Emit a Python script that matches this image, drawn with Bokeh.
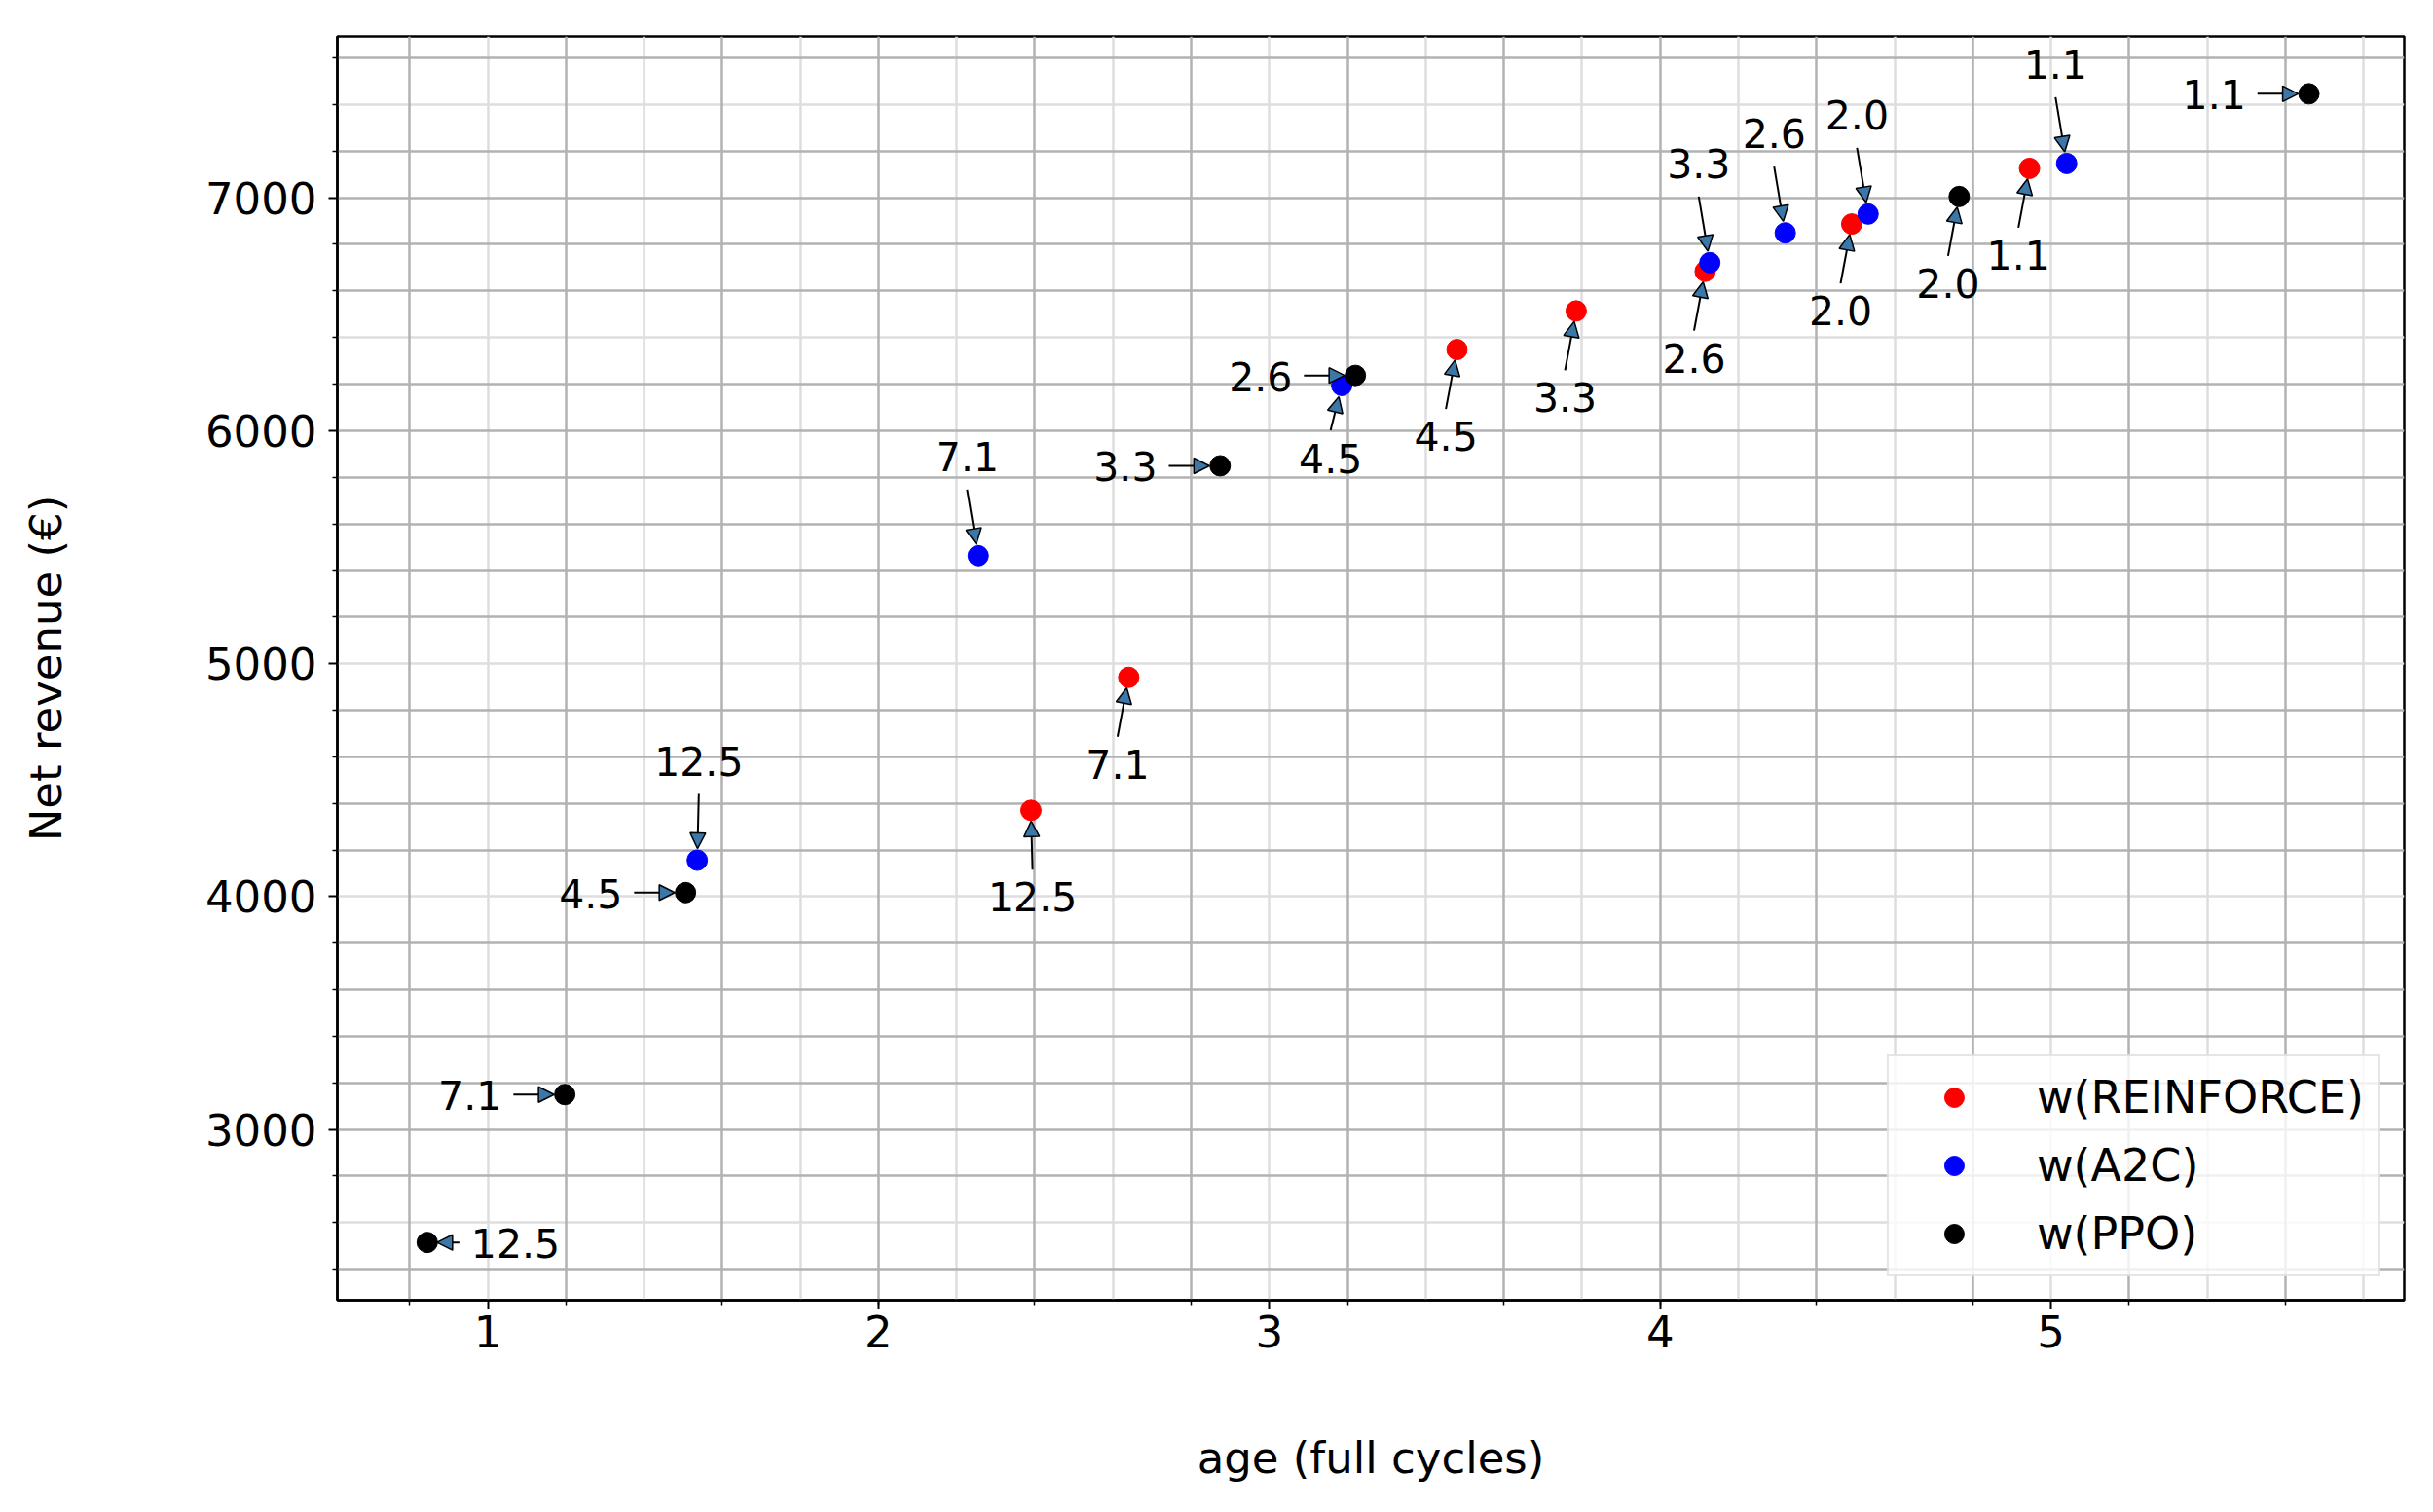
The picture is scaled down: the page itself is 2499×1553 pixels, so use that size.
import math
from bokeh.plotting import figure
from bokeh.models import FixedTicker, Grid, Arrow, NormalHead, ColumnDataSource, Range1d
from bokeh.core.properties import value
from bokeh.embed import file_html
from bokeh.resources import INLINE

# ---------------- data ----------------
weights = ["12.5", "7.1", "4.5", "3.3", "2.6", "2.0", "1.1"]

reinforce_age = [2.39, 2.64, 3.48, 3.785, 4.115, 4.49, 4.945]
reinforce_rev = [4370, 4941, 6348, 6514, 6684, 6887, 7126]

a2c_age = [1.536, 2.255, 3.185, 4.127, 4.32, 4.532, 5.04]
a2c_rev = [4156, 5463, 6194, 6721, 6849, 6930, 7147]

ppo_age = [0.845, 1.197, 1.506, 2.874, 3.22, 4.765, 5.66]
ppo_rev = [2515, 3150, 4017, 5849, 6237, 7005, 7446]

series_names = ["w(REINFORCE)", "w(A2C)", "w(PPO)"]
series_colors = ["red", "blue", "black"]

reinforce_side = ["below"] * 7
a2c_side = ["above", "above", "below_near", "above", "above", "above", "above"]
ppo_side = ["right", "left", "left", "left", "left", "below", "left"]

x_major = [1, 2, 3, 4, 5]
x_minor = [0.8, 1.2, 1.6, 2.0, 2.4, 2.8, 3.2, 3.6, 4.0, 4.4, 4.8, 5.2, 5.6]
y_major = [3000, 4000, 5000, 6000, 7000]
y_minor = [2400, 2600, 2800, 3200, 3400, 3600, 3800, 4200, 4400, 4600, 4800,
           5200, 5400, 5600, 5800, 6200, 6400, 6600, 6800, 7200, 7400, 7600]

xgrid_dark = [0.8, 1.2, 1.6, 2.0, 2.4, 2.8, 3.2, 3.6, 4.0, 4.4, 4.8, 5.2, 5.6]
xgrid_light = [1.0, 1.4, 1.8, 2.2, 2.6, 3.0, 3.4, 3.8, 4.2, 4.6, 5.0, 5.4, 5.8]
ygrid_dark = [2400, 2800, 3000, 3200, 3400, 3600, 3800, 4200, 4400, 4600, 4800,
              5200, 5400, 5600, 5800, 6000, 6200, 6600, 6800, 7000, 7200, 7600]
ygrid_light = [2600, 4000, 5000, 6400, 7400]

# ---------------- layout ----------------
X_RANGE = (0.615, 5.904)
Y_RANGE = (2267, 7692)
FW, FH = 2123, 1298
px_x = FW / (X_RANGE[1] - X_RANGE[0])
px_y = FH / (Y_RANGE[1] - Y_RANGE[0])

FONT = "DejaVu Sans"
ANN_FS = 41

p = figure(frame_width=FW, frame_height=FH,
           x_range=Range1d(*X_RANGE), y_range=Range1d(*Y_RANGE),
           output_backend="svg", toolbar_location=None,
           min_border_left=346, min_border_top=37, min_border_right=22,
           min_border_bottom=196,
           background_fill_color="white", border_fill_color="white",
           x_axis_label="age (full cycles)", y_axis_label="Net revenue (€)")

p.outline_line_color = "black"
p.outline_line_width = 2.5
p.outline_line_alpha = 1.0

p.xgrid.visible = False
p.ygrid.visible = False
p.add_layout(Grid(dimension=0, ticker=FixedTicker(ticks=xgrid_light),
                  grid_line_color="#dedede", grid_line_width=2.5))
p.add_layout(Grid(dimension=1, ticker=FixedTicker(ticks=ygrid_light),
                  grid_line_color="#dedede", grid_line_width=2.5))
p.add_layout(Grid(dimension=0, ticker=FixedTicker(ticks=xgrid_dark),
                  grid_line_color="#b2b2b2", grid_line_width=2.5))
p.add_layout(Grid(dimension=1, ticker=FixedTicker(ticks=ygrid_dark),
                  grid_line_color="#b2b2b2", grid_line_width=2.5))

p.xaxis.ticker = FixedTicker(ticks=x_major, minor_ticks=x_minor)
p.yaxis.ticker = FixedTicker(ticks=y_major, minor_ticks=y_minor)

for ax in (p.xaxis[0], p.yaxis[0]):
    ax.axis_line_width = 2.5
    ax.axis_line_color = "black"
    ax.major_tick_line_width = 2
    ax.major_tick_out = 9
    ax.major_tick_in = 0
    ax.minor_tick_line_width = 1.5
    ax.minor_tick_out = 5
    ax.minor_tick_in = 0
    ax.major_label_text_font = FONT
    ax.major_label_text_font_size = "45px"
    ax.major_label_text_color = "black"
    ax.axis_label_text_font = FONT
    ax.axis_label_text_font_size = "45px"
    ax.axis_label_text_font_style = "normal"
    ax.axis_label_text_color = "black"

p.xaxis.major_label_standoff = 6
p.yaxis.major_label_standoff = 12
p.xaxis.axis_label_standoff = 84
p.yaxis.axis_label_standoff = 134

# ---------------- points ----------------
all_series = [
    (reinforce_age, reinforce_rev, reinforce_side),
    (a2c_age, a2c_rev, a2c_side),
    (ppo_age, ppo_rev, ppo_side),
]

for (xs, ys, _), name, col in zip(all_series, series_names, series_colors):
    p.scatter(xs, ys, size=21, marker="circle", fill_color=col, line_color=col,
              legend_label=name)


def text_w(s, fs):
    return sum(0.636 if c.isdigit() else 0.318 for c in s) * fs


tx, ty, tt = [], [], []
ax0, ay0, ax1, ay1 = [], [], [], []
for xs, ys, sides in all_series:
    for x, y, lab, side in zip(xs, ys, weights, sides):
        w = text_w(lab, ANN_FS)
        # offsets in screen pixels (y pointing down); text offset = text centre line
        if side == "below":
            tdx, tdy = -44, 89
            sx, sy, tip = -44 + w / 2, 61, 11
        elif side == "below_near":
            tdx, tdy = -44, 75
            sx, sy, tip = -44 + w / 2, 46, 12
        elif side == "above":
            tdx, tdy = -44, -102
            sx, sy, tip = -44 + w / 2, -68, 12
        elif side == "left":
            tdx, tdy = -130, 1
            sx, sy, tip = -130 + w + 12, 0, 11
        else:
            tdx, tdy = 45, 1
            sx, sy, tip = 33, 0, 10
        L = math.hypot(sx, sy)
        ex, ey = sx / L * tip, sy / L * tip
        tx.append(x + tdx / px_x)
        ty.append(y - tdy / px_y)
        tt.append(lab)
        ax0.append(x + sx / px_x)
        ay0.append(y - sy / px_y)
        ax1.append(x + ex / px_x)
        ay1.append(y - ey / px_y)

p.text(x=tx, y=ty, text=tt, text_font=value(FONT), text_font_size=value(f"{ANN_FS}px"),
       text_align="left", text_baseline="middle", text_color="black")

arrow_src = ColumnDataSource(dict(x0=ax0, y0=ay0, x1=ax1, y1=ay1))
p.add_layout(Arrow(source=arrow_src, x_start="x0", y_start="y0", x_end="x1", y_end="y1",
                   line_color="black", line_width=2,
                   end=NormalHead(size=16, fill_color="#3b77a8", line_color="black",
                                  line_width=1.5)))

# ---------------- legend ----------------
lg = p.legend[0]
lg.location = "bottom_right"
lg.margin = 24
lg.padding = 15
lg.spacing = 16
lg.glyph_width = 104
lg.glyph_height = 50
lg.label_height = 54
lg.label_standoff = 33
lg.label_text_font = FONT
lg.label_text_font_size = "46px"
lg.label_text_color = "black"
lg.border_line_color = "#cccccc"
lg.border_line_width = 2
lg.background_fill_color = "white"
lg.background_fill_alpha = 0.8

open("out.html", "w").write(file_html(p, INLINE, "chart"))
